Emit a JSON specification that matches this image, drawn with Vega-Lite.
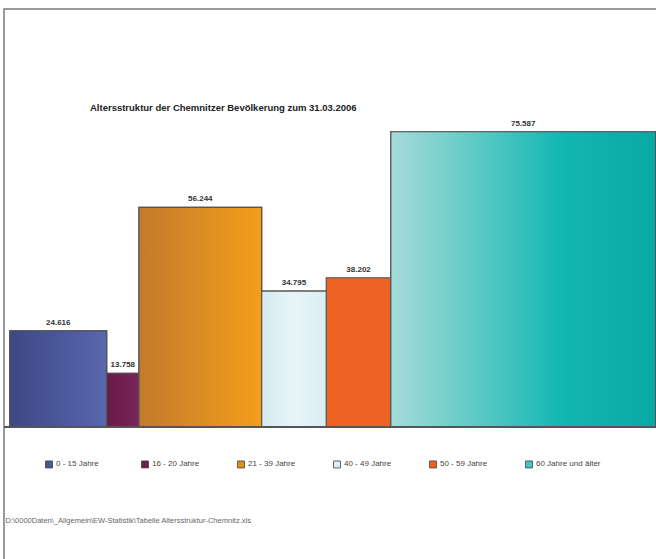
{
  "$schema": "https://vega.github.io/schema/vega-lite/v6.json",
  "width": 660,
  "height": 561,
  "autosize": "none",
  "padding": {"left": 4, "top": 9, "right": 0, "bottom": 0},
  "background": "white",
  "config": {
    "view": {"stroke": "#7a7a7a", "strokeWidth": 1.5},
    "font": "Liberation Sans",
    "locale": {"number": {"decimal": ",", "thousands": ".", "grouping": [3], "currency": ["", " €"]}}
  },
  "title": {
    "text": "Altersstruktur der Chemnitzer Bevölkerung zum 31.03.2006",
    "anchor": "start",
    "frame": "group",
    "fontSize": 9.5,
    "fontWeight": "bold",
    "color": "#222",
    "offset": 0,
    "dx": 86,
    "dy": 103
  },
  "data": {
    "values": [
      {"gruppe": "0 - 15 Jahre", "von": 0, "bis": 15, "anzahl": 24616},
      {"gruppe": "16 - 20 Jahre", "von": 15, "bis": 20, "anzahl": 13758},
      {"gruppe": "21 - 39 Jahre", "von": 20, "bis": 39, "anzahl": 56244},
      {"gruppe": "40 - 49 Jahre", "von": 39, "bis": 49, "anzahl": 34795},
      {"gruppe": "50 - 59 Jahre", "von": 49, "bis": 59, "anzahl": 38202},
      {"gruppe": "60 Jahre und älter", "von": 59, "bis": 100, "anzahl": 75587}
    ]
  },
  "encoding": {
    "x": {
      "field": "von", "type": "quantitative",
      "scale": {"domain": [-0.9, 101.3], "nice": false, "zero": false},
      "axis": {
        "orient": "top", "ticks": false, "labels": false, "domain": false, "grid": false,
        "title": "D:\\0000Daten\\_Allgemein\\EW-Statistik\\Tabelle Altersstruktur-Chemnitz.xls",
        "titleX": 1, "titleY": 511, "titleAlign": "left", "titleAnchor": "start",
        "titleBaseline": "middle", "titleFontSize": 7.5, "titleFontWeight": "normal", "titleColor": "#666"
      }
    },
    "x2": {"field": "bis"},
    "y": {
      "field": "anzahl", "type": "quantitative",
      "scale": {"domain": [-36608, 107008], "nice": false, "zero": false},
      "axis": null
    },
    "y2": {"datum": 0}
  },
  "layer": [
    {
      "mark": {"type": "rect", "stroke": "#555", "strokeWidth": 1.2},
      "encoding": {
        "color": {
          "field": "gruppe", "type": "nominal",
          "scale": {
            "domain": ["0 - 15 Jahre", "16 - 20 Jahre", "21 - 39 Jahre", "40 - 49 Jahre", "50 - 59 Jahre", "60 Jahre und älter"],
            "range": ["#4a5698", "#6f1f50", "#e08e22", "#dcf0f3", "#ee6224", "#4cc2bd"]
          },
          "legend": {
            "orient": "none", "legendX": 41, "legendY": 451,
            "direction": "horizontal", "columns": 6, "gridAlign": "all", "columnPadding": 18,
            "title": null, "symbolType": "square", "symbolSize": 49,
            "symbolStrokeColor": "#444", "symbolStrokeWidth": 0.8,
            "labelFontSize": 8, "labelColor": "#444", "labelOffset": 3
          }
        }
      }
    },
    {
      "transform": [{"filter": "datum.gruppe === '0 - 15 Jahre'"}],
      "mark": {"type": "rect", "stroke": "#555", "strokeWidth": 1.2,
        "fill": {"gradient": "linear", "x1": 0, "y1": 0, "x2": 1, "y2": 0,
          "stops": [{"offset": 0, "color": "#3c4785"}, {"offset": 1, "color": "#5967ae"}]}}
    },
    {
      "transform": [{"filter": "datum.gruppe === '16 - 20 Jahre'"}],
      "mark": {"type": "rect", "stroke": "#555", "strokeWidth": 1.2,
        "fill": {"gradient": "linear", "x1": 0, "y1": 0, "x2": 1, "y2": 0,
          "stops": [{"offset": 0, "color": "#671b4a"}, {"offset": 1, "color": "#7a2557"}]}}
    },
    {
      "transform": [{"filter": "datum.gruppe === '21 - 39 Jahre'"}],
      "mark": {"type": "rect", "stroke": "#555", "strokeWidth": 1.2,
        "fill": {"gradient": "linear", "x1": 0, "y1": 0, "x2": 1, "y2": 0,
          "stops": [{"offset": 0, "color": "#c27a2c"}, {"offset": 1, "color": "#f49e1b"}]}}
    },
    {
      "transform": [{"filter": "datum.gruppe === '40 - 49 Jahre'"}],
      "mark": {"type": "rect", "stroke": "#555", "strokeWidth": 1.2,
        "fill": {"gradient": "linear", "x1": 0, "y1": 0, "x2": 1, "y2": 0,
          "stops": [{"offset": 0, "color": "#d3ebf0"}, {"offset": 0.5, "color": "#e8f5f7"}, {"offset": 1, "color": "#d9eef2"}]}}
    },
    {
      "transform": [{"filter": "datum.gruppe === '60 Jahre und älter'"}],
      "mark": {"type": "rect", "stroke": "#555", "strokeWidth": 1.2,
        "fill": {"gradient": "linear", "x1": 0, "y1": 0, "x2": 1, "y2": 0,
          "stops": [{"offset": 0, "color": "#a6dcda"}, {"offset": 0.65, "color": "#12b6b1"}, {"offset": 1, "color": "#0aa9a4"}]}}
    },
    {
      "mark": {"type": "rule", "color": "#555", "strokeWidth": 2},
      "encoding": {"x": null, "x2": null, "y": {"datum": 0}, "y2": null}
    },
    {
      "transform": [{"calculate": "(datum.von + datum.bis) / 2", "as": "mitte"}],
      "mark": {"type": "text", "baseline": "bottom", "dy": -4, "fontSize": 8, "fontWeight": "bold", "color": "#333"},
      "encoding": {
        "x": {"field": "mitte", "type": "quantitative"},
        "x2": null,
        "y2": null,
        "text": {"field": "anzahl", "type": "quantitative", "format": ",d"}
      }
    }
  ]
}
